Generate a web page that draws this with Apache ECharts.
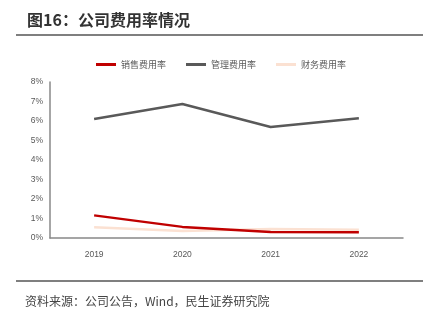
<!DOCTYPE html>
<html><head><meta charset="utf-8">
<script src="https://cdn.jsdelivr.net/npm/echarts@6/dist/echarts.min.js"></script>
<style>html,body{margin:0;padding:0;background:#fff}#c{width:431px;height:323px}</style>
</head><body><div id="c"></div>
<script>
const categories = ['2019','2020','2021','2022'];
const salesRate = [1.16, 0.57, 0.31, 0.30];
const mgmtRate = [6.10, 6.87, 5.69, 6.14];
const finRate = [0.55, 0.36, 0.46, 0.42];
const seriesNames = ['销售费用率','管理费用率','财务费用率'];
const titleText = '图16：公司费用率情况';
const sourceText = '资料来源：公司公告，Wind，民生证券研究院';

const chart = echarts.init(document.getElementById('c'), null, {renderer:'canvas'});
const font = '"Microsoft YaHei","Noto Sans CJK SC",sans-serif';
chart.setOption({
  animation:false,
  title:{text:titleText,left:22,top:7,textStyle:{fontSize:16,fontWeight:'bold',color:'#333',fontFamily:font}},
  graphic:[
    {type:'line',shape:{x1:16,y1:35,x2:423,y2:35},style:{stroke:'#555',lineWidth:1.5}},
    {type:'line',shape:{x1:16,y1:281,x2:423,y2:281},style:{stroke:'#555',lineWidth:1.5}},
    {type:'text',left:25,top:295,style:{text:sourceText,fontSize:12,fill:'#444',fontFamily:font}}
  ],
  legend:{top:55,left:91,itemWidth:20,itemHeight:3,itemGap:20,icon:'rect',
    textStyle:{fontSize:9,color:'#595959',fontFamily:font},data:seriesNames},
  grid:{left:50,right:28,top:82,bottom:85,containLabel:false},
  xAxis:{type:'category',data:categories,boundaryGap:true,
    axisLine:{lineStyle:{color:'#888',width:1.5}},axisTick:{show:false},
    axisLabel:{fontSize:8.5,color:'#595959',margin:12}},
  yAxis:{type:'value',min:0,max:8,interval:1,
    axisLine:{show:true,lineStyle:{color:'#888',width:1.5}},axisTick:{show:false},splitLine:{show:false},
    axisLabel:{fontSize:8.5,color:'#595959',formatter:v=>v+'%',margin:7}},
  series:[
    {name:seriesNames[0],type:'line',data:salesRate,symbol:'none',lineStyle:{color:'#C00000',width:2.5},itemStyle:{color:'#C00000'},z:3},
    {name:seriesNames[1],type:'line',data:mgmtRate,symbol:'none',lineStyle:{color:'#595959',width:2.5},itemStyle:{color:'#595959'}},
    {name:seriesNames[2],type:'line',data:finRate,symbol:'none',lineStyle:{color:'#FBE1D2',width:2.5},itemStyle:{color:'#FBE1D2'},z:2}
  ]
});
</script></body></html>
